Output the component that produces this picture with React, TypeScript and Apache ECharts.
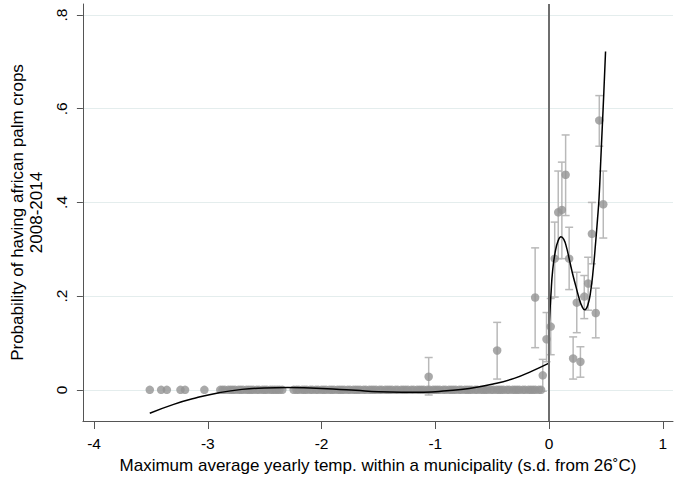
import React, { useEffect, useRef } from 'react';
import * as echarts from 'echarts';

const xTicks = [-4, -3, -2, -1, 0, 1];
const yTicks = [0, 0.2, 0.4, 0.6, 0.8];

// municipalities with zero probability (y = 0)
const zeroX = [
  -3.51, -3.41, -3.36, -3.24, -3.2, -3.03,
  -2.89, -2.87, -2.85, -2.82, -2.8, -2.78, -2.76, -2.73, -2.71, -2.69, -2.66, -2.64, -2.62,
  -2.6, -2.57, -2.55, -2.52, -2.5, -2.48, -2.45, -2.43, -2.41, -2.39, -2.37, -2.345,
  -2.245, -2.22, -2.2, -2.17, -2.15, -2.13, -2.1, -2.08, -2.05, -2.03, -2.0, -1.98, -1.96,
  -1.93, -1.91, -1.89, -1.86, -1.84, -1.82, -1.8, -1.77, -1.75, -1.72, -1.7, -1.68, -1.66,
  -1.63, -1.61, -1.58, -1.56, -1.54, -1.52, -1.49, -1.47, -1.44, -1.42, -1.4, -1.38, -1.35,
  -1.33, -1.3, -1.28, -1.26, -1.24, -1.21, -1.19, -1.16, -1.14, -1.12, -1.1, -1.07, -1.05,
  -1.02, -1.0, -0.98, -0.96, -0.93, -0.91, -0.88, -0.86, -0.84, -0.82, -0.79, -0.77, -0.74,
  -0.72, -0.7, -0.68, -0.65, -0.63, -0.6, -0.58, -0.56, -0.54, -0.51, -0.49, -0.46, -0.44,
  -0.42, -0.4, -0.37, -0.35, -0.32, -0.3, -0.28, -0.26, -0.23, -0.21, -0.18, -0.16, -0.14,
  -0.12, -0.09, -0.07,
];

// bins with confidence intervals
const ciX = [-1.058, -0.456, -0.122, -0.055, -0.022, 0.015, 0.05, 0.081, 0.113, 0.146, 0.177, 0.212, 0.244, 0.276, 0.31, 0.344, 0.377, 0.411, 0.442, 0.477];
const ciMean = [0.028, 0.084, 0.197, 0.031, 0.108, 0.135, 0.28, 0.379, 0.384, 0.459, 0.28, 0.067, 0.186, 0.06, 0.199, 0.227, 0.333, 0.164, 0.575, 0.396];
const ciLow = [-0.011, 0.023, 0.09, -0.003, 0.06, 0.075, 0.198, 0.28, 0.28, 0.372, 0.214, 0.023, 0.122, 0.027, 0.152, 0.17, 0.269, 0.111, 0.52, 0.324];
const ciHigh = [0.069, 0.144, 0.303, 0.065, 0.165, 0.195, 0.358, 0.467, 0.486, 0.544, 0.347, 0.113, 0.251, 0.092, 0.244, 0.283, 0.4, 0.217, 0.628, 0.467];

// fitted curves (left and right of 0)
const fitLeftX = [-3.51, -3.3, -3.1, -2.9, -2.7, -2.5, -2.3, -2.1, -1.9, -1.7, -1.5, -1.3, -1.1, -0.9, -0.7, -0.5, -0.3, -0.15, 0.0];
const fitLeftY = [-0.05, -0.031, -0.017, -0.006, 0.001, 0.004, 0.005, 0.004, 0.002, -0.001, -0.004, -0.005, -0.005, -0.002, 0.003, 0.012, 0.025, 0.04, 0.057];
const fitRightX = [0.0, 0.016, 0.032, 0.055, 0.08, 0.105, 0.13, 0.155, 0.177, 0.205, 0.235, 0.265, 0.29, 0.314, 0.34, 0.366, 0.39, 0.41, 0.425, 0.44, 0.455, 0.468, 0.482, 0.497];
const fitRightY = [0.135, 0.2, 0.255, 0.295, 0.318, 0.327, 0.321, 0.303, 0.28, 0.25, 0.222, 0.195, 0.178, 0.171, 0.18, 0.21, 0.26, 0.315, 0.36, 0.41, 0.49, 0.56, 0.635, 0.722];

const FONT = '"Liberation Sans", Arial, Helvetica, sans-serif';

export default function App() {
  const ref = useRef<HTMLDivElement>(null);
  useEffect(() => {
    const chart = echarts.init(ref.current!, null, { renderer: 'svg' });
    const axisColor = '#555555';
    chart.setOption({
      animation: false,
      backgroundColor: '#ffffff',
      textStyle: { fontFamily: FONT },
      grid: { left: 78, right: 11, top: 4, bottom: 56 },
      xAxis: {
        type: 'value',
        min: -4.098,
        max: 1.09,
        axisLine: { show: true, onZero: false, lineStyle: { color: axisColor, width: 1 } },
        axisTick: { show: true, length: 8, customValues: xTicks, lineStyle: { color: axisColor } },
        axisLabel: { customValues: xTicks, margin: 14, color: '#000', fontSize: 15.5, fontFamily: FONT },
        splitLine: { show: false },
        name: 'Maximum average yearly temp. within a municipality (s.d. from 26˚C)',
        nameLocation: 'middle',
        nameGap: 36,
        nameTextStyle: { color: '#000', fontSize: 17, fontFamily: FONT },
      },
      yAxis: {
        type: 'value',
        min: -0.0665,
        max: 0.8235,
        axisLine: { show: true, onZero: false, lineStyle: { color: axisColor, width: 1 } },
        axisTick: { show: true, length: 6, customValues: yTicks, lineStyle: { color: axisColor } },
        axisLabel: {
          customValues: yTicks,
          rotate: 90,
          margin: 13,
          color: '#000',
          fontSize: 15.5,
          fontFamily: FONT,
          formatter: (v: number) => (v === 0 ? '0' : String(Math.round(v * 10) / 10).replace(/^0\./, '.')),
        },
        splitLine: { show: true, lineStyle: { color: '#e4eded', width: 1 } },
        name: 'Probability of having african palm crops\n2008-2014',
        nameLocation: 'middle',
        nameGap: 26,
        nameTextStyle: { color: '#000', fontSize: 17, lineHeight: 19, fontFamily: FONT },
      },
      series: [
        {
          type: 'custom',
          z: 1,
          data: ciX.map((x, i) => [x, ciLow[i], ciHigh[i]]),
          encode: { x: 0, y: [1, 2] },
          renderItem: (params: any, api: any) => {
            const x = api.value(0);
            const lo = api.coord([x, api.value(1)]);
            const hi = api.coord([x, api.value(2)]);
            const hw = 4;
            const style = { stroke: '#b9b9b9', lineWidth: 1.5, fill: 'none' };
            return {
              type: 'group',
              children: [
                { type: 'line', shape: { x1: lo[0], y1: lo[1], x2: hi[0], y2: hi[1] }, style },
                { type: 'line', shape: { x1: lo[0] - hw, y1: lo[1], x2: lo[0] + hw, y2: lo[1] }, style },
                { type: 'line', shape: { x1: hi[0] - hw, y1: hi[1], x2: hi[0] + hw, y2: hi[1] }, style },
              ],
            };
          },
        },
        {
          type: 'scatter',
          z: 2,
          symbol: 'circle',
          symbolSize: 8.5,
          itemStyle: { color: '#939393' },
          data: zeroX.map((x) => [x, 0]),
        },
        {
          type: 'scatter',
          z: 2,
          symbol: 'circle',
          symbolSize: 8.5,
          itemStyle: { color: '#939393' },
          data: ciX.map((x, i) => [x, ciMean[i]]),
        },
        {
          type: 'line',
          z: 3,
          smooth: 0.5,
          showSymbol: false,
          lineStyle: { color: '#000', width: 1.5 },
          data: fitLeftX.map((x, i) => [x, fitLeftY[i]]),
        },
        {
          type: 'line',
          z: 3,
          smooth: 0.5,
          showSymbol: false,
          lineStyle: { color: '#000', width: 1.5 },
          data: fitRightX.map((x, i) => [x, fitRightY[i]]),
          markLine: {
            silent: true,
            symbol: ['none', 'none'],
            label: { show: false },
            lineStyle: { color: '#6e6e6e', width: 2, type: 'solid' },
            data: [{ xAxis: 0 }],
          },
        },
      ],
    });
    return () => chart.dispose();
  }, []);
  return <div ref={ref} style={{ position: 'fixed', left: 0, top: 0, width: 684, height: 479 }} />;
}
